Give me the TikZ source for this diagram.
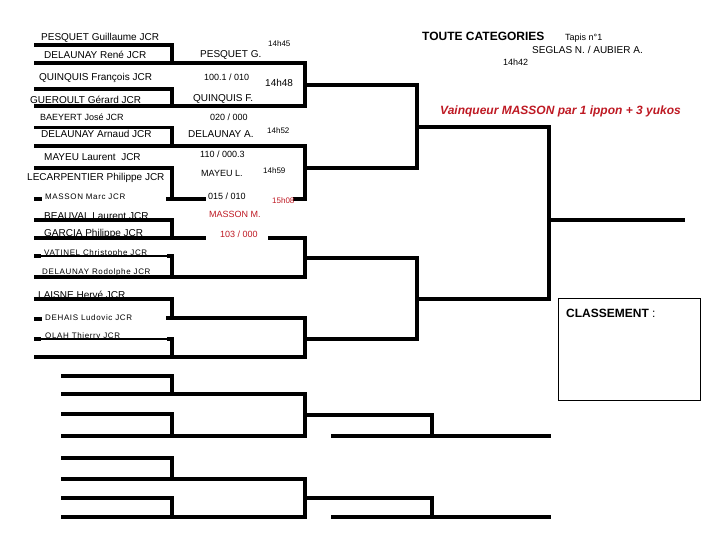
\documentclass[tikz,border=0pt]{standalone}
\usepackage{fontspec}
\setmainfont{Liberation Sans}
\newfontfamily\spfont[LetterSpace=8]{Liberation Sans}
\definecolor{redtxt}{RGB}{190,25,35}
\tikzset{
  bl/.style={line width=3.1pt, line cap=rect, line join=miter},
  tl/.style={line width=1.2pt},
  nm/.style={anchor=base west, inner sep=0pt, font=\fontsize{10}{12}\selectfont},
  nmn/.style={anchor=base west, inner sep=0pt, font=\fontsize{9}{11}\selectfont},
  snm/.style={anchor=base west, inner sep=0pt, font=\spfont\fontsize{8}{10}\selectfont},
  tm/.style={anchor=base west, inner sep=0pt, font=\fontsize{8}{10}\selectfont},
  rd/.style={text=redtxt},
}
\begin{document}
\begin{tikzpicture}[x=1pt,y=-1pt]
\useasboundingbox (0,0) rectangle (720,540);
% ---- round 1 brackets ----
\draw[bl] (36,45)--(172,45)--(172,63);
\draw[bl] (36,63)--(305,63);
\draw[bl] (36,89)--(172,89)--(172,106);
\draw[bl] (36,106)--(305,106);
\draw[bl] (36,127.5)--(172,127.5)--(172,146);
\draw[bl] (36,146)--(305,146);
\draw[bl] (36,168)--(172,168)--(172,199);
\draw[bl] (36,199)--(40,199);
\draw[bl] (168,199)--(204,199);
\draw[bl] (295,199)--(305,199);
\draw[bl] (36,220)--(172,220)--(172,238);
\draw[bl] (36,238)--(204,238);
\draw[bl] (270,238)--(305,238);
\draw[bl] (36,256)--(39,256);
\draw[tl] (39,256)--(170,256);
\draw[bl] (169,256)--(172,256)--(172,277);
\draw[bl] (36,277)--(305,277);
\draw[bl] (36,299)--(172,299)--(172,318);
\draw[bl] (36,319)--(40,319);
\draw[bl] (168,318)--(305,318);
\draw[bl] (36,339)--(39,339);
\draw[tl] (39,339)--(170,339);
\draw[bl] (169,339)--(172,339)--(172,357);
\draw[bl] (36,357)--(305,357);
% lower blocks
\draw[bl] (63,376)--(172,376)--(172,394);
\draw[bl] (63,394)--(305,394);
\draw[bl] (63,414)--(172,414)--(172,436);
\draw[bl] (63,436)--(305,436);
\draw[bl] (63,458)--(172,458)--(172,479);
\draw[bl] (63,479)--(305,479);
\draw[bl] (63,498)--(172,498)--(172,517);
\draw[bl] (63,517)--(305,517);
% ---- round 2 ----
\draw[bl] (305,63)--(305,106);
\draw[bl] (305,85)--(417,85);
\draw[bl] (305,146)--(305,199);
\draw[bl] (305,168)--(417,168);
\draw[bl] (305,238)--(305,277);
\draw[bl] (305,258)--(417,258);
\draw[bl] (305,318)--(305,357);
\draw[bl] (305,339)--(417,339);
\draw[bl] (305,394)--(305,436);
\draw[bl] (305,415)--(432,415)--(432,436);
\draw[bl] (305,479)--(305,517);
\draw[bl] (305,498)--(432,498)--(432,517);
\draw[bl] (333,436)--(549,436);
\draw[bl] (333,517)--(549,517);
% ---- round 3 / 4 ----
\draw[bl] (417,85)--(417,168);
\draw[bl] (417,127)--(549,127);
\draw[bl] (417,258)--(417,339);
\draw[bl] (417,299)--(549,299);
\draw[bl] (549,127)--(549,299);
\draw[bl] (549,220)--(683,220);
% classement box
\draw[line width=1pt] (558,298) rectangle (700,400);
\node[anchor=base west, inner sep=0pt, font=\fontsize{12}{14}\selectfont] (cls) at (566,317.5) {\textbf{CLASSEMENT} :};
% ---- names ----
\node[nm] (n1) at (41,40.6) {PESQUET Guillaume JCR};
\node[nm] (n2) at (44,58.3) {DELAUNAY René JCR};
\node[nm] (n3) at (39,80.6) {QUINQUIS François JCR};
\node[nm] (n4) at (30,103.3) {GUEROULT Gérard JCR};
\node[nmn] (n5) at (40,120.4) {BAEYERT José JCR};
\node[nm] (n6) at (41,137.8) {DELAUNAY Arnaud JCR};
\node[nm] (n7) at (44,160.6) {MAYEU Laurent\ \ JCR};
\node[nm] (n8) at (27,180.6) {LECARPENTIER Philippe JCR};
\node[snm] (n9) at (45,200) {MASSON Marc JCR};
\node[nm] (n10) at (44,219.2) {BEAUVAL Laurent JCR};
\node[nm] (n11) at (44,236.3) {GARCIA Philippe JCR};
\node[snm] (n12) at (44,255) {VATINEL Christophe JCR};
\node[snm] (n13) at (42,274.5) {DELAUNAY Rodolphe JCR};
\node[nm] (n14) at (38,298.8) {LAISNE Hervé JCR};
\node[snm] (n15) at (45,320) {DEHAIS Ludovic JCR};
\node[snm] (n16) at (45,338.8) {OLAH Thierry JCR};
% ---- middle results ----
\node[tm] (t1) at (268,47) {14h45};
\node[nm] (w1) at (200,57.6) {PESQUET G.};
\node[nmn] (s1) at (204,80.2) {100.1 / 010};
\node[nm] (t2) at (265,86.6) {14h48};
\node[nm] (w2) at (193,101.6) {QUINQUIS F.};
\node[nmn] (s2) at (210,120.2) {020 / 000};
\node[tm] (t3) at (267,134) {14h52};
\node[nm] (w3) at (188,137.6) {DELAUNAY A.};
\node[nmn] (s3) at (200,157.2) {110 / 000.3};
\node[nmn] (w4) at (201,176.2) {MAYEU L.};
\node[tm] (t4) at (263,174) {14h59};
\node[nmn] (s4) at (208,199.5) {015 / 010};
\node[tm,rd] (t5) at (272,204) {15h08};
\node[nmn,rd] (w5) at (209,217.5) {MASSON M.};
\node[nmn,rd] (s5) at (220,237.5) {103 / 000};
% ---- header ----
\node[anchor=base west, inner sep=0pt, font=\fontsize{12}{14}\selectfont\bfseries] (title) at (422,40.3) {TOUTE CATEGORIES};
\node[nmn] (tapis) at (565,40.2) {Tapis n°1};
\node[nm] (arb) at (532,53.6) {SEGLAS N. / AUBIER A.};
\node[nmn] (t0) at (503,65.2) {14h42};
\node[anchor=base west, inner sep=0pt, rd, font=\fontsize{12}{14}\selectfont\bfseries\itshape] (vq) at (440,114.3) {Vainqueur MASSON par 1 ippon + 3 yukos};
\end{tikzpicture}
\end{document}
